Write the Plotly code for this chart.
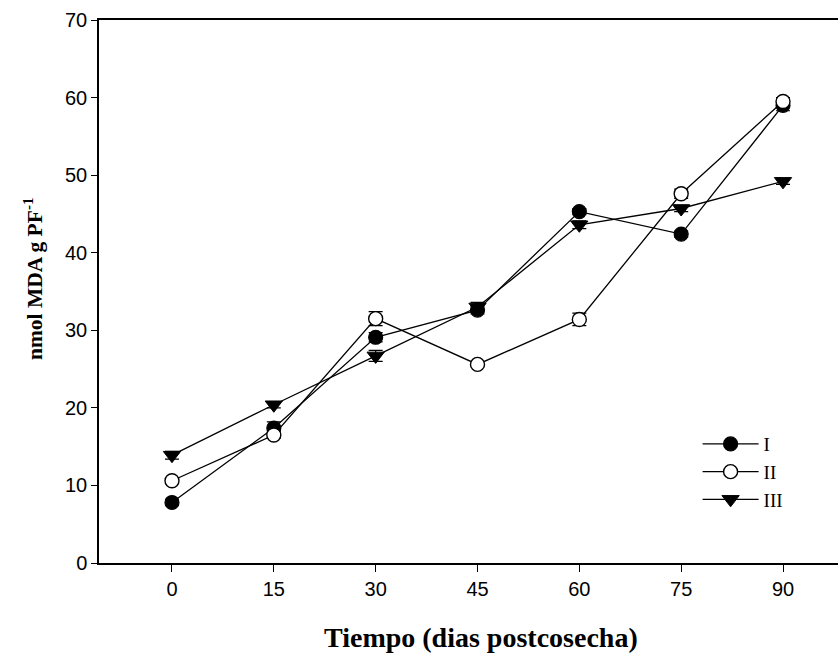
import plotly.graph_objects as go

# Días postcosecha
dias = [0, 15, 30, 45, 60, 75, 90]

# nmol MDA g PF^-1 por tratamiento (media y error estándar)
serie_I = [7.8, 17.4, 29.1, 32.6, 45.3, 42.4, 59.0]
err_I = [0.4, 0.8, 0.6, 0.5, 0.4, 0.4, 0.7]

serie_II = [10.6, 16.5, 31.5, 25.6, 31.4, 47.6, 59.5]
err_II = [0.3, 0.4, 0.9, 0.3, 0.8, 0.6, 0.5]

serie_III = [13.9, 20.4, 26.7, 33.0, 43.6, 45.7, 49.2]
err_III = [0.5, 0.4, 0.7, 0.6, 0.5, 0.4, 0.4]

nombres = ["I", "II", "III"]
x_ticks = [0, 15, 30, 45, 60, 75, 90]
y_ticks = [0, 10, 20, 30, 40, 50, 60, 70]

titulo_x = "<b>Tiempo (dias postcosecha)</b>"
titulo_y = "<b>nmol MDA g PF<sup>-1</sup></b>"

series = [
    (nombres[0], serie_I, err_I, dict(symbol="circle", size=14, color="black",
                                      line=dict(color="black", width=1.2))),
    (nombres[1], serie_II, err_II, dict(symbol="circle", size=14, color="white",
                                        line=dict(color="black", width=1.4))),
    (nombres[2], serie_III, err_III, dict(symbol="triangle-down", size=15, color="black",
                                          line=dict(color="black", width=1))),
]

fig = go.Figure()
for nombre, valores, errores, marcador in series:
    fig.add_trace(go.Scatter(
        x=dias, y=valores, name=nombre,
        mode="lines+markers",
        line=dict(color="black", width=1.3),
        marker=marcador,
        error_y=dict(type="data", array=errores, visible=True,
                     color="black", thickness=1.2, width=7),
    ))

fig.update_layout(
    template="none",
    width=838, height=653,
    margin=dict(l=99, r=0, t=20, b=90),
    paper_bgcolor="white", plot_bgcolor="white",
    showlegend=True,
    legend=dict(
        x=0.810, y=0.254, xanchor="left", yanchor="top",
        bgcolor="rgba(0,0,0,0)", borderwidth=0,
        font=dict(family="Liberation Serif", size=19, color="black"),
        tracegroupgap=0, itemwidth=56,
    ),
    xaxis=dict(
        range=[-10.75, 98.1], tickvals=x_ticks,
        ticks="outside", ticklen=7, tickwidth=1.2, tickcolor="black",
        showline=True, linecolor="black", linewidth=1.5, mirror=True,
        showgrid=False, zeroline=False, automargin=False,
        tickfont=dict(family="Liberation Sans", size=20, color="black"),
    ),
    yaxis=dict(
        range=[0, 70], tickvals=y_ticks,
        ticks="outside", ticklen=6, tickwidth=1.2, tickcolor="black",
        showline=True, linecolor="black", linewidth=1.5,
        showgrid=False, zeroline=False, automargin=False,
        tickfont=dict(family="Liberation Sans", size=20, color="black"),
    ),
)

# Títulos de los ejes como anotaciones para fijar su posición
fig.add_annotation(
    text=titulo_x, xref="paper", yref="paper",
    x=0.5175, y=-0.1363, xanchor="center", yanchor="middle",
    showarrow=False,
    font=dict(family="Liberation Serif", size=28, color="black"),
)
fig.add_annotation(
    text=titulo_y, xref="paper", yref="paper",
    x=-0.0893, y=0.523, xanchor="center", yanchor="middle",
    textangle=-90, showarrow=False,
    font=dict(family="Liberation Serif", size=21.5, color="black"),
)

fig.write_html("out.html")
